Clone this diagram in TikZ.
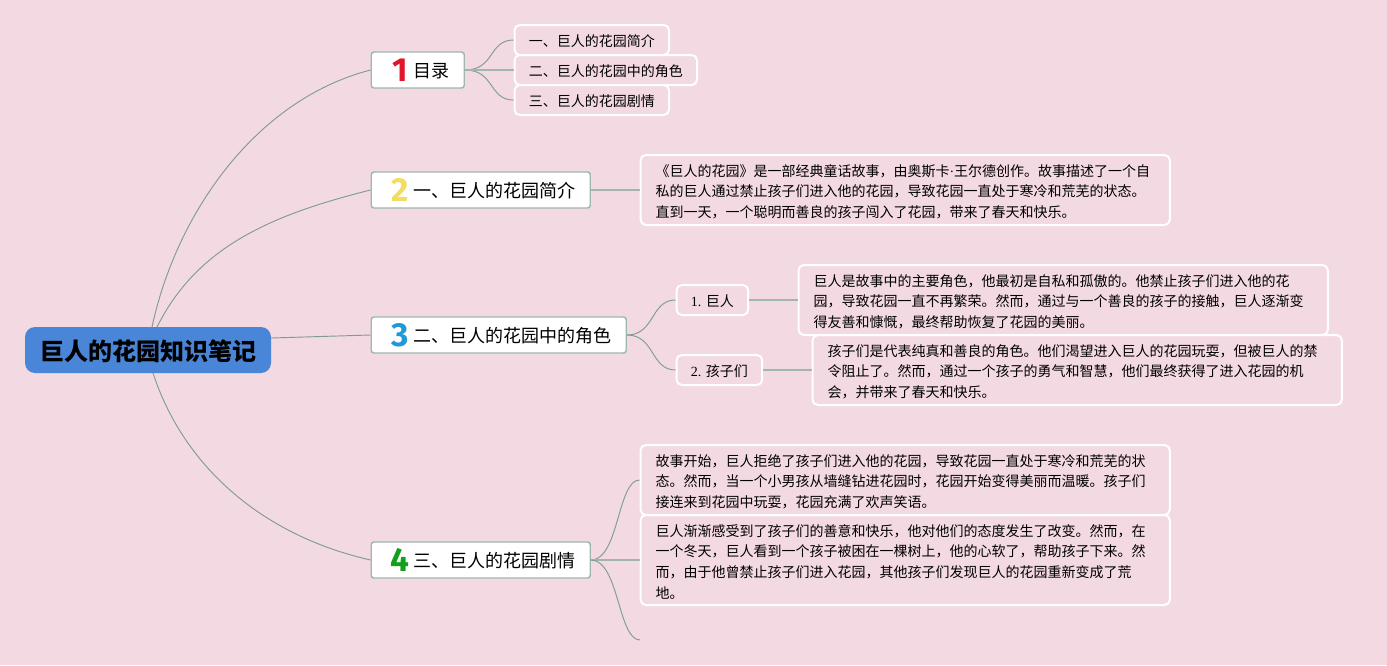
\documentclass[tikz,border=0pt]{standalone}
\usepackage{fontspec}
\setmainfont{Noto Sans CJK SC}
\newfontfamily\latinfont{Liberation Serif}
\newfontfamily\digitfont{Fira Sans}
\newcommand{\topicnum}[2]{\makebox[20.25pt][c]{\smash{\raisebox{-2.85pt}{\fontsize{25pt}{25pt}\digitfont\bfseries\color{#1}#2}}}}
\begin{document}
\begin{tikzpicture}[x=0.75pt,y=0.75pt,
	rootbox/.style={draw=none,fill=rootcol,rounded corners=7.5pt,minimum width=184.5pt,minimum height=34.5pt,inner sep=0pt,text height=17pt,text depth=1.2pt,font=\fontsize{18pt}{18pt}\selectfont\bfseries},
	topicbox/.style={draw=topicline,line width=1.1pt,fill=white,rounded corners=2pt,minimum height=27pt,inner xsep=11.25pt,inner ysep=0pt,anchor=west,text height=12.5pt,text depth=1pt,font=\fontsize{13.5pt}{16pt}\selectfont},
	whitebox/.style={draw=white,line width=1.5pt,rounded corners=4pt,inner xsep=11.25pt,inner ysep=0pt,anchor=west},
	subbox/.style={whitebox,inner xsep=10.7pt,minimum height=22.5pt,text height=10.7pt,text depth=0.5pt,font=\fontsize{10.5pt}{13pt}\selectfont},
	notebox/.style={whitebox,text width=374.5pt,align=left,minimum height=52.5pt,execute at begin node={\rule{0pt}{11.5pt}},font=\fontsize{10.5pt}{15.4pt}\selectfont},
	curvelink/.style={draw=linecol,line width=0.7pt},
	straightlink/.style={draw=stemcol,line width=1.4pt}]
	\definecolor{bgcol}{HTML}{F3D9E1}
	\definecolor{rootcol}{HTML}{4A86D8}
	\definecolor{topicline}{HTML}{9DB8AE}
	\definecolor{linecol}{HTML}{7F9C94}
	\definecolor{stemcol}{HTML}{A3B5AE}
	\definecolor{numa}{HTML}{E0162B}
	\definecolor{numb}{HTML}{F4DC5E}
	\definecolor{numc}{HTML}{1F9AD6}
	\definecolor{numd}{HTML}{12A01C}
	\path[use as bounding box,fill=bgcol] (0,0) rectangle (1387,-665);
	\node[rootbox] (root) at (148,-350) {巨人的花园知识笔记};
	\coordinate (rootupa) at (152,-327);
	\coordinate (rootupb) at (157,-327);
	\coordinate (rootright) at (271,-338);
	\coordinate (rootdown) at (153,-373);
	\node[topicbox] (toc) at (370.5,-70) {\topicnum{numa}{1}目录};
	\node[topicbox] (intro) at (370.5,-190) {\topicnum{numb}{2}一、巨人的花园简介};
	\node[topicbox] (roles) at (370.5,-335) {\topicnum{numc}{3}二、巨人的花园中的角色};
	\node[topicbox] (plot) at (370.5,-560) {\topicnum{numd}{4}三、巨人的花园剧情};
	\node[subbox] (tocintro) at (513.5,-40) {一、巨人的花园简介};
	\node[subbox] (tocroles) at (513.5,-70) {二、巨人的花园中的角色};
	\node[subbox] (tocplot) at (513.5,-100) {三、巨人的花园剧情};
	\node[notebox] (intronote) at (639.5,-190) {《巨人的花园》是一部经典童话故事，由奥斯卡{\latinfont ·}王尔德创作。故事描述了一个自\\私的巨人通过禁止孩子们进入他的花园，导致花园一直处于寒冷和荒芜的状态。\\直到一天，一个聪明而善良的孩子闯入了花园，带来了春天和快乐。};
	\node[subbox] (giant) at (675.5,-300) {{\latinfont 1. }巨人};
	\node[subbox] (kids) at (675.5,-370) {{\latinfont 2. }孩子们};
	\node[notebox] (giantnote) at (797.5,-300) {巨人是故事中的主要角色，他最初是自私和孤傲的。他禁止孩子们进入他的花\\园，导致花园一直不再繁荣。然而，通过与一个善良的孩子的接触，巨人逐渐变\\得友善和慷慨，最终帮助恢复了花园的美丽。};
	\node[notebox] (kidsnote) at (811.5,-370) {孩子们是代表纯真和善良的角色。他们渴望进入巨人的花园玩耍，但被巨人的禁\\令阻止了。然而，通过一个孩子的勇气和智慧，他们最终获得了进入花园的机\\会，并带来了春天和快乐。};
	\node[notebox] (plotnotea) at (639.5,-480) {故事开始，巨人拒绝了孩子们进入他的花园，导致花园一直处于寒冷和荒芜的状\\态。然而，当一个小男孩从墙缝钻进花园时，花园开始变得美丽而温暖。孩子们\\接连来到花园中玩耍，花园充满了欢声笑语。};
	\node[notebox,minimum height=67.5pt] (plotnoteb) at (639.5,-560) {巨人渐渐感受到了孩子们的善意和快乐，他对他们的态度发生了改变。然而，在\\一个冬天，巨人看到一个孩子被困在一棵树上，他的心软了，帮助孩子下来。然\\而，由于他曾禁止孩子们进入花园，其他孩子们发现巨人的花园重新变成了荒\\地。};
	\coordinate (plotend) at (640,-640);
	\draw[curvelink] (rootupa) .. controls +(24,112) and +(-116,-30) .. (toc.west);
	\draw[curvelink] (rootupb) .. controls +(40,80) and +(-100,-25) .. (intro.west);
	\draw[curvelink] (rootright) -- (roles.west);
	\draw[curvelink] (rootdown) .. controls +(30,-92) and +(-110,25) .. (plot.west);
	\foreach \subname in {tocintro,tocplot}
		\draw[curvelink] (toc.east) .. controls +(30,0) and +(-25,0) .. (\subname.west);
	\draw[straightlink] (toc.east) -- (tocroles.west);
	\draw[straightlink] (intro.east) -- (intronote.west);
	\draw[curvelink] (roles.east) .. controls +(28,0) and +(-25,0) .. (giant.west);
	\draw[curvelink] (roles.east) .. controls +(28,0) and +(-25,0) .. (kids.west);
	\draw[straightlink] (giant.east) -- (giantnote.west);
	\draw[straightlink] (kids.east) -- (kidsnote.west);
	\draw[curvelink] (plot.east) .. controls +(28,0) and +(-22,0) .. (plotnotea.west);
	\draw[straightlink] (plot.east) -- (plotnoteb.west);
	\draw[curvelink] (plot.east) .. controls +(28,0) and +(-22,0) .. (plotend);
\end{tikzpicture}
\end{document}
